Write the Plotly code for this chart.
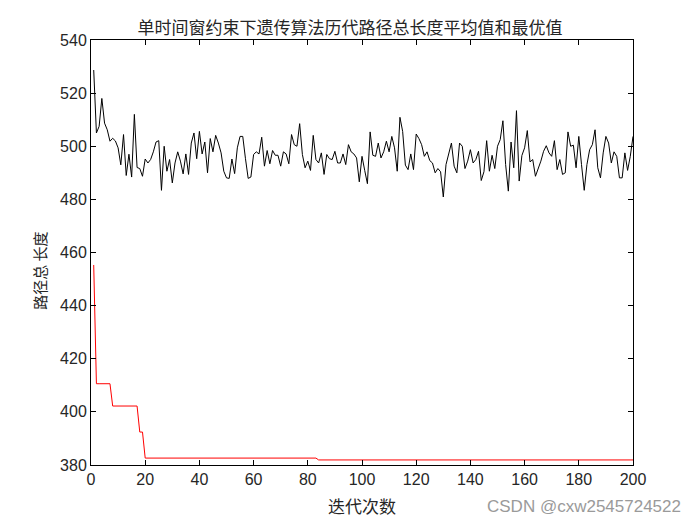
import plotly.graph_objects as go

iterations = list(range(1, 201))

avg_length = [
    528.7, 505.0, 507.5, 518.0, 508.7, 506.2, 501.9, 503.0, 502.0, 499.4,
    493.0, 504.4, 489.0, 497.0, 488.4, 512.0, 492.0, 491.6, 488.7, 495.2,
    493.7, 495.0, 497.9, 501.6, 502.1, 483.4, 500.0, 490.6, 495.0, 486.2,
    493.7, 497.9, 494.4, 489.6, 497.1, 489.4, 501.2, 505.0, 495.3, 505.6,
    497.1, 501.6, 490.0, 502.9, 497.9, 504.1, 501.2, 497.5, 490.6, 488.1,
    487.9, 495.2, 489.7, 499.4, 503.7, 503.7, 495.3, 487.9, 488.4, 496.9,
    497.9, 497.1, 503.4, 492.5, 498.4, 493.4, 498.4, 496.6, 496.6, 492.5,
    497.9, 497.1, 493.4, 504.4, 500.6, 500.0, 508.5, 496.9, 491.9, 494.4,
    490.9, 504.1, 495.0, 493.7, 497.5, 489.4, 496.9, 495.3, 495.0, 498.1,
    493.7, 493.7, 497.1, 493.1, 500.6, 497.9, 497.1, 495.6, 486.6, 496.2,
    490.9, 485.9, 505.4, 496.6, 496.2, 501.2, 495.6, 497.9, 501.9, 497.9,
    503.7, 499.4, 490.6, 510.9, 505.6, 492.9, 491.2, 497.1, 491.2, 504.6,
    502.9, 500.6, 496.2, 497.9, 494.6, 493.7, 490.0, 491.6, 490.4, 480.9,
    493.1, 497.5, 501.2, 492.5, 490.0, 501.2, 500.0, 491.6, 494.4, 498.7,
    493.7, 495.0, 498.1, 487.1, 490.4, 502.1, 490.6, 496.6, 491.6, 500.0,
    502.5, 509.6, 493.1, 483.1, 501.6, 491.9, 513.4, 486.9, 496.5, 499.4,
    505.9, 494.1, 495.0, 488.7, 491.2, 494.4, 498.1, 500.2, 497.5, 496.2,
    502.1, 491.2, 495.0, 489.4, 490.0, 505.4, 500.0, 500.4, 491.9, 503.7,
    493.1, 483.4, 493.1, 498.7, 500.6, 506.2, 491.9, 488.1, 497.5, 503.7,
    501.2, 493.7, 497.9, 496.2, 488.1, 488.1, 497.5, 490.9, 496.2, 503.7,
]

best_length = (
    [455.3]
    + [410.6] * 6
    + [402.2] * 10
    + [392.4] * 2
    + [382.6] * 64
    + [381.9] * 117
)

title_text = "单时间窗约束下遗传算法历代路径总长度平均值和最优值"
x_title = "迭代次数"
y_title = "路径总 长度"
watermark = "CSDN @cxw2545724522"

cjk = "Noto Sans CJK SC"
num_font = "Liberation Sans, Arial"

fig = go.Figure()
fig.add_trace(go.Scatter(x=iterations, y=avg_length, mode="lines",
                         line=dict(color="black", width=1), showlegend=False))
fig.add_trace(go.Scatter(x=iterations, y=best_length, mode="lines",
                         line=dict(color="red", width=1), showlegend=False))

axis_common = dict(
    showline=True, linecolor="black", linewidth=1, mirror="ticks",
    ticks="inside", ticklen=5, tickcolor="black", tickwidth=1,
    showgrid=False, zeroline=False,
    tickfont=dict(family=num_font, size=16, color="#262626"),
)

fig.update_layout(
    width=700, height=525,
    margin=dict(l=91, r=67, t=40, b=56),
    paper_bgcolor="white", plot_bgcolor="white",
    title=dict(text=title_text, x=0.5, xanchor="center", y=0.947, yanchor="middle",
               font=dict(family=cjk, size=17, color="#262626")),
    xaxis=dict(range=[0, 200], dtick=20, tick0=0,
               title=dict(text=x_title, font=dict(family=cjk, size=17, color="#262626"), standoff=13),
               **axis_common),
    yaxis=dict(range=[380, 540], dtick=20, tick0=380, **axis_common),
    annotations=[
        dict(text=y_title, xref="paper", yref="paper", x=-0.094, y=0.457,
             xanchor="center", yanchor="middle", textangle=-90, showarrow=False,
             font=dict(family=cjk, size=15, color="#262626")),
        dict(text=watermark, xref="paper", yref="paper", x=1.093, y=-0.098,
             xanchor="right", yanchor="middle", showarrow=False,
             font=dict(family="Liberation Sans, Arial", size=17, color="#9a9a9a")),
    ],
)

fig.write_html("out.html")
